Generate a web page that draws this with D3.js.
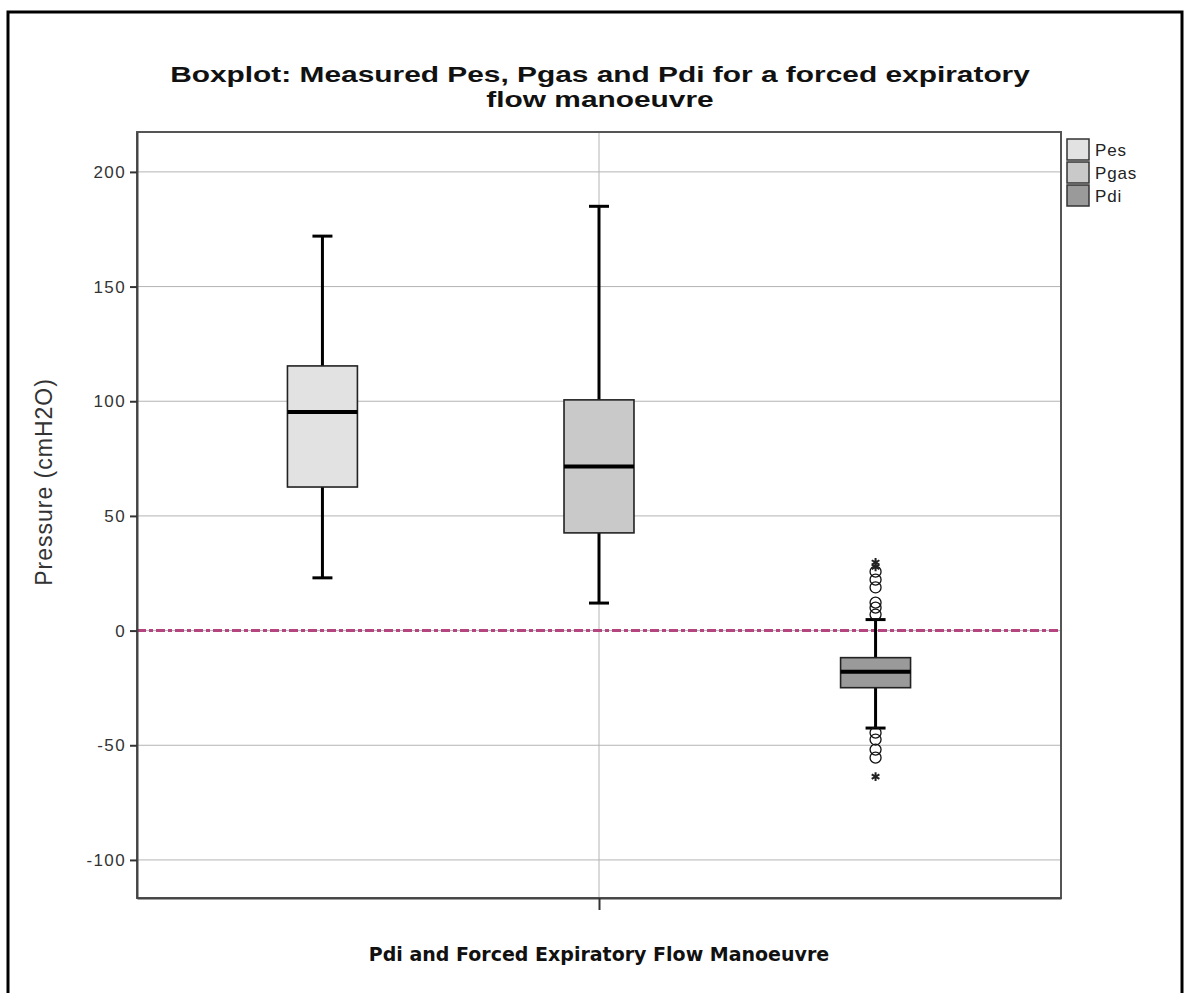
<!DOCTYPE html>
<html>
<head>
<meta charset="utf-8">
<script src="https://cdn.jsdelivr.net/npm/d3@7/dist/d3.min.js"></script>
<style>
  html, body { margin: 0; padding: 0; background: #fff; }
  svg { display: block; }
</style>
</head>
<body>
<svg id="chart" width="1184" height="993"></svg>
<script>
// ---- Data ----
const series = ["Pes", "Pgas", "Pdi"];
const whiskerLow = [23, 12, -42.5];
const q1 = [62.6, 42.6, -24.9];
const median = [95.3, 71.5, -17.9];
const q3 = [115.4, 100.6, -11.8];
const whiskerHigh = [172, 185, 4.8];
const pdiOutliers = [7.0, 10.0, 12.2, 18.8, 22.2, 25.7, -44.5, -47.5, -51.9, -55.4];
const pdiExtremes = [29.7, 27.8, -63.7];
const yTicks = [-100, -50, 0, 50, 100, 150, 200];
const referenceValue = [0];
const fills = ["#e2e2e2", "#c9c9c9", "#9a9a9a"];

const titleLines = ["Boxplot: Measured Pes, Pgas and Pdi for a forced expiratory", "flow manoeuvre"];
const xTitle = "Pdi and Forced Expiratory Flow Manoeuvre";
const yTitle = "Pressure (cmH2O)";

// ---- Layout ----
const svg = d3.select("#chart");
const plot = { left: 137, right: 1061, top: 132, bottom: 898 };

// outer frame
svg.append("rect")
  .attr("x", 8).attr("y", 12).attr("width", 1174).attr("height", 1000)
  .attr("fill", "none").attr("stroke", "#000").attr("stroke-width", 3);

const y = d3.scaleLinear().domain([-116.6, 217.4]).range([plot.bottom, plot.top]);
const x = d3.scaleBand().domain(series).range([plot.left, plot.right])
  .paddingInner(0.747).paddingOuter(0.544);
const xCenter = (plot.left + plot.right) / 2;

// horizontal gridlines
svg.append("g").selectAll("line").data(yTicks).join("line")
  .attr("x1", plot.left).attr("x2", plot.right)
  .attr("y1", d => y(d)).attr("y2", d => y(d))
  .attr("stroke", "#b4b4b4").attr("stroke-width", 1);

// vertical gridline at category centre
svg.append("line")
  .attr("x1", xCenter).attr("x2", xCenter)
  .attr("y1", plot.top).attr("y2", plot.bottom)
  .attr("stroke", "#b4b4b4").attr("stroke-width", 1);

// reference line
svg.append("g").selectAll("line").data(referenceValue).join("line")
  .attr("x1", plot.left).attr("x2", plot.right)
  .attr("y1", d => y(d)).attr("y2", d => y(d))
  .attr("stroke", "#b5457f").attr("stroke-width", 3)
  .attr("stroke-dasharray", "9,3,4,3");

// boxes
const data = series.map((s, i) => ({ s, i, lo: whiskerLow[i], q1: q1[i], med: median[i], q3: q3[i], hi: whiskerHigh[i] }));
const g = svg.append("g").selectAll("g").data(data).join("g");
const bw = x.bandwidth();
const capW = 20;

g.append("line") // upper whisker
  .attr("x1", d => x(d.s) + bw / 2).attr("x2", d => x(d.s) + bw / 2)
  .attr("y1", d => y(d.q3)).attr("y2", d => y(d.hi))
  .attr("stroke", "#000").attr("stroke-width", 3);
g.append("line") // lower whisker
  .attr("x1", d => x(d.s) + bw / 2).attr("x2", d => x(d.s) + bw / 2)
  .attr("y1", d => y(d.q1)).attr("y2", d => y(d.lo))
  .attr("stroke", "#000").attr("stroke-width", 3);
g.append("line") // top cap
  .attr("x1", d => x(d.s) + bw / 2 - capW / 2).attr("x2", d => x(d.s) + bw / 2 + capW / 2)
  .attr("y1", d => y(d.hi)).attr("y2", d => y(d.hi))
  .attr("stroke", "#000").attr("stroke-width", 3);
g.append("line") // bottom cap
  .attr("x1", d => x(d.s) + bw / 2 - capW / 2).attr("x2", d => x(d.s) + bw / 2 + capW / 2)
  .attr("y1", d => y(d.lo)).attr("y2", d => y(d.lo))
  .attr("stroke", "#000").attr("stroke-width", 3);
g.append("rect")
  .attr("x", d => x(d.s)).attr("width", bw)
  .attr("y", d => y(d.q3)).attr("height", d => y(d.q1) - y(d.q3))
  .attr("fill", (d, i) => fills[i]).attr("stroke", "#222").attr("stroke-width", 1.6);
g.append("line") // median
  .attr("x1", d => x(d.s)).attr("x2", d => x(d.s) + bw)
  .attr("y1", d => y(d.med)).attr("y2", d => y(d.med))
  .attr("stroke", "#000").attr("stroke-width", 4);

// outliers for Pdi
const pdiX = x("Pdi") + bw / 2;
svg.append("g").selectAll("circle").data(pdiOutliers).join("circle")
  .attr("cx", pdiX).attr("cy", d => y(d)).attr("r", 5.5)
  .attr("fill", "none").attr("stroke", "#111").attr("stroke-width", 1.3);
svg.append("g").selectAll("path").data(pdiExtremes).join("path")
  .attr("transform", d => `translate(${pdiX},${y(d)})`)
  .attr("d", d3.symbol(d3.symbolAsterisk, 55))
  .attr("fill", "none").attr("stroke", "#222").attr("stroke-width", 2);

// plot frame
svg.append("rect")
  .attr("x", plot.left).attr("y", plot.top)
  .attr("width", plot.right - plot.left).attr("height", plot.bottom - plot.top)
  .attr("fill", "none").attr("stroke", "#555").attr("stroke-width", 2);

// y axis
const yAxis = d3.axisLeft(y).tickValues(yTicks).tickSize(7).tickSizeOuter(0).tickPadding(4)
  .tickFormat(d => String(d));
const ya = svg.append("g").attr("transform", `translate(${plot.left},0)`).call(yAxis);
ya.select(".domain").attr("stroke", "#444").attr("stroke-width", 2);
ya.selectAll(".tick line").attr("stroke", "#333").attr("stroke-width", 2);
ya.selectAll(".tick text")
  .attr("font-family", "Liberation Sans, Arial, sans-serif")
  .attr("font-size", 17).attr("fill", "#333").attr("letter-spacing", 1.4);

// x axis: single category tick at centre
const xAxisScale = d3.scalePoint().domain([xTitle]).range([plot.left, plot.right]).padding(0.5);
const xa = svg.append("g").attr("transform", `translate(0,${plot.bottom})`)
  .call(d3.axisBottom(xAxisScale).tickSize(12).tickSizeOuter(0).tickFormat(""));
xa.select(".domain").attr("stroke", "#444").attr("stroke-width", 2);
xa.selectAll(".tick line").attr("stroke", "#333").attr("stroke-width", 2);

// axis titles
svg.append("text")
  .attr("x", xCenter).attr("y", 961).attr("text-anchor", "middle")
  .attr("font-family", "DejaVu Sans, Verdana, sans-serif").attr("font-weight", "bold")
  .attr("font-size", 19).attr("fill", "#111").text(xTitle);

svg.append("text")
  .attr("transform", `translate(52,482) rotate(-90)`)
  .attr("text-anchor", "middle")
  .attr("font-family", "Liberation Sans, Arial, sans-serif")
  .attr("font-size", 23).attr("fill", "#333").attr("letter-spacing", 1).text(yTitle);

// title
const tg = svg.append("g");
const tl = tg.selectAll("text").data(titleLines).join("text")
  .attr("x", 0).attr("y", (d, i) => i * 25)
  .attr("text-anchor", "middle")
  .attr("font-family", "Liberation Sans, Arial, sans-serif").attr("font-weight", "bold")
  .attr("font-size", 22.5).attr("fill", "#111").text(d => d);
const w0 = tl.nodes()[0].getComputedTextLength();
const sx = 860 / w0;
tg.attr("transform", `translate(600,82) scale(${sx},1)`);

// legend
const lg = svg.append("g").selectAll("g").data(series).join("g")
  .attr("transform", (d, i) => `translate(1067,${139 + i * 23})`);
lg.append("rect").attr("width", 22).attr("height", 21)
  .attr("fill", (d, i) => fills[i]).attr("stroke", "#333").attr("stroke-width", 1.5);
lg.append("text").attr("x", 28).attr("y", 17)
  .attr("font-family", "Liberation Sans, Arial, sans-serif")
  .attr("font-size", 17).attr("fill", "#222").attr("letter-spacing", 0.8).text(d => d);
</script>
</body>
</html>
